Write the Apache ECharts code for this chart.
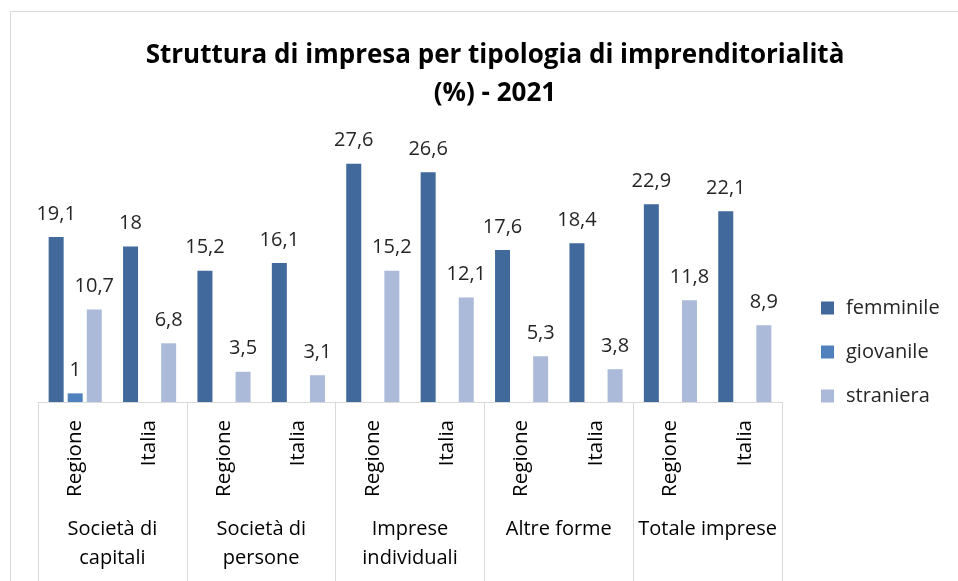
<!DOCTYPE html>
<html>
<head>
<meta charset="utf-8">
<script src="https://cdn.jsdelivr.net/npm/echarts@6/dist/echarts.min.js"></script>
<style>
html,body{margin:0;padding:0;background:#fff;}
#c{width:958px;height:581px;}
</style>
</head>
<body>
<div id="c"></div>
<script>
const subCategories = ['Regione','Italia','Regione','Italia','Regione','Italia','Regione','Italia','Regione','Italia'];
const groups = ['Società di\ncapitali','Società di\npersone','Imprese\nindividuali','Altre forme','Totale imprese'];
const seriesNames = ['femminile','giovanile','straniera'];
const femminile = [19.1, 18, 15.2, 16.1, 27.6, 26.6, 17.6, 18.4, 22.9, 22.1];
const giovanile = [1, null, null, null, null, null, null, null, null, null];
const straniera = [10.7, 6.8, 3.5, 3.1, 15.2, 12.1, 5.3, 3.8, 11.8, 8.9];
const colors = ['#41699B', '#4F81BD', '#AABAD8'];

const FONT = '"Open Sans", Lato, sans-serif';
const chart = echarts.init(document.getElementById('c'), null, {renderer:'canvas'});

function barSeries(name, data, color){
  return {
    name: name, type: 'bar', data: data,
    barWidth: 15, barGap: '27%',
    itemStyle: {color: color},
    label: {
      show: true, position: 'top', distance: 13,
      fontFamily: FONT, fontSize: 20, color: '#262626',
      formatter: p => (p.value == null ? '' : String(p.value).replace('.', ','))
    }
  };
}

chart.setOption({
  animation: false,
  backgroundColor: '#fff',
  color: colors,
  graphic: [{
    type: 'rect', z: -10, silent: true,
    shape: {x: 10.5, y: 11.5, width: 970, height: 600},
    style: {fill: '#fff', stroke: '#d9d9d9', lineWidth: 1}
  }],
  title: {
    text: 'Struttura di impresa per tipologia di imprenditorialità\n(%) - 2021',
    left: 490, top: 32, textAlign: 'center',
    textStyle: {fontFamily: FONT, fontWeight: 'bold', fontSize: 26, lineHeight: 38, color: '#000'}
  },
  legend: {
    orient: 'vertical', left: 816, top: 293,
    itemWidth: 13, itemHeight: 13, itemGap: 24, icon: 'rect',
    textStyle: {fontFamily: FONT, fontSize: 20, lineHeight: 20, color: '#262626', padding: [0, 0, 0, 7]},
    data: seriesNames
  },
  grid: {left: 38, right: 176, top: 143, bottom: 179, containLabel: false},
  xAxis: [{
    type: 'category', data: subCategories, position: 'bottom',
    axisLine: {show: true, lineStyle: {color: '#d9d9d9', width: 1}},
    axisTick: {show: false},
    axisLabel: {rotate: 90, interval: 0, margin: 18, fontFamily: FONT, fontSize: 20.5, color: '#000'}
  }, {
    type: 'category', data: groups, position: 'bottom', offset: 0,
    axisLine: {show: false},
    axisTick: {show: true, interval: 0, length: 180, lineStyle: {color: '#d9d9d9', width: 1}},
    axisLabel: {interval: 0, margin: 113, fontFamily: FONT, fontSize: 20, lineHeight: 29, color: '#000'}
  }],
  yAxis: {
    type: 'value', min: 0, max: 30, show: false,
    splitLine: {show: false}
  },
  series: [
    barSeries(seriesNames[0], femminile, colors[0]),
    barSeries(seriesNames[1], giovanile, colors[1]),
    barSeries(seriesNames[2], straniera, colors[2])
  ]
});
</script>
</body>
</html>
